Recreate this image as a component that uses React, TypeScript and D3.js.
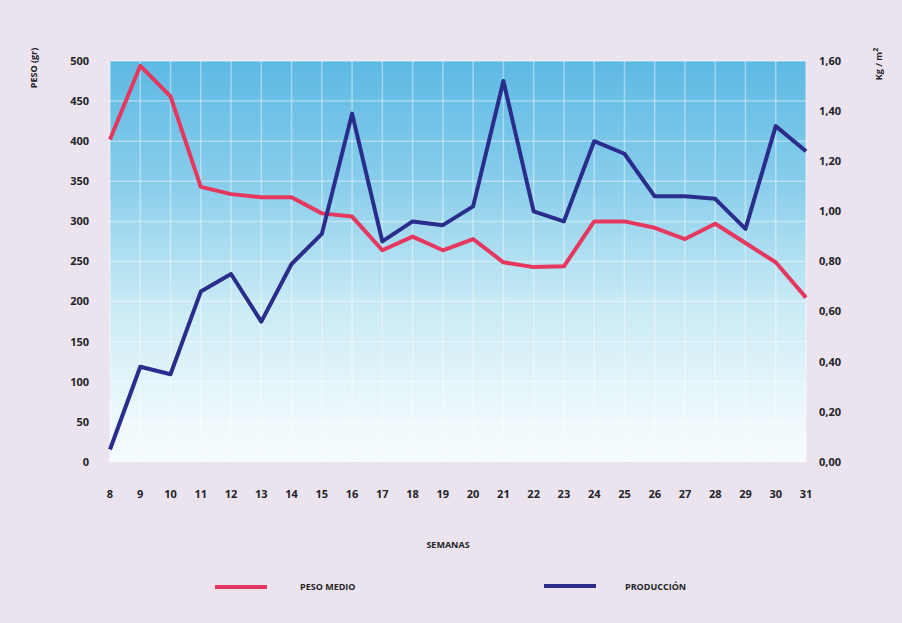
import React from "react";
import * as d3 from "d3";

// Weeks on the x axis
const weeks = [8, 9, 10, 11, 12, 13, 14, 15, 16, 17, 18, 19, 20, 21, 22, 23, 24, 25, 26, 27, 28, 29, 30, 31];

// Average weight per fruit (g), left axis
const pesoMedio = [402, 494, 456, 343, 334, 330, 330, 310, 306, 264, 281, 264, 278, 249, 243, 244, 300, 300, 292, 278, 297, 273, 249, 205];

// Production (kg / m²), right axis
const produccion = [0.05, 0.38, 0.35, 0.68, 0.75, 0.56, 0.79, 0.91, 1.39, 0.88, 0.96, 0.945, 1.02, 1.52, 1.0, 0.96, 1.28, 1.23, 1.06, 1.06, 1.05, 0.93, 1.34, 1.24];

const leftTicks = [0, 50, 100, 150, 200, 250, 300, 350, 400, 450, 500];
const rightTicks = [0, 0.2, 0.4, 0.6, 0.8, 1.0, 1.2, 1.4, 1.6];

const W = 902;
const H = 623;
const plot = { left: 110, right: 806, top: 61, bottom: 462 };

const FONT = "'Open Sans', 'DejaVu Sans', sans-serif";
const INK = "#232328";

export default function App() {
  const x = d3.scaleLinear().domain([8, 31]).range([plot.left, plot.right]);
  const yL = d3.scaleLinear().domain([0, 500]).range([plot.bottom, plot.top]);
  const yR = d3.scaleLinear().domain([0, 1.6]).range([plot.bottom, plot.top]);

  const linePeso = d3
    .line<number>()
    .x((_, i) => x(weeks[i]))
    .y((d) => yL(d));
  const lineProd = d3
    .line<number>()
    .x((_, i) => x(weeks[i]))
    .y((d) => yR(d));

  const fmtR = (v: number) => v.toFixed(2).replace(".", ",");

  return (
    <svg
      width={W}
      height={H}
      style={{ position: "fixed", left: 0, top: 0, display: "block" }}
      fontFamily={FONT}
    >
      <defs>
        <linearGradient id="bgFade" x1="0" y1="0" x2="0" y2="1">
          <stop offset="0" stopColor="#5db9e3" />
          <stop offset="0.3" stopColor="#88cdeb" />
          <stop offset="0.6" stopColor="#c8eaf5" />
          <stop offset="0.85" stopColor="#e9f7fb" />
          <stop offset="1" stopColor="#f7fcfe" />
        </linearGradient>
      </defs>
      <rect x={0} y={0} width={W} height={H} fill="#ebe4ef" />

      {/* plot panel */}
      <rect
        x={plot.left}
        y={plot.top}
        width={plot.right - plot.left}
        height={plot.bottom - plot.top}
        fill="url(#bgFade)"
      />

      {/* grid */}
      <g stroke="#ffffff" strokeOpacity={0.4} strokeWidth={1.5}>
        {weeks.map((w) => (
          <line key={"v" + w} x1={x(w)} x2={x(w)} y1={plot.top} y2={plot.bottom} />
        ))}
        {leftTicks.slice(1).map((t) => (
          <line key={"h" + t} x1={plot.left} x2={plot.right} y1={yL(t)} y2={yL(t)} />
        ))}
      </g>

      {/* series */}
      <path
        d={linePeso(pesoMedio) || ""}
        fill="none"
        stroke="#e6375e"
        strokeWidth={4}
        strokeLinejoin="round"
      />
      <path
        d={lineProd(produccion) || ""}
        fill="none"
        stroke="#2a2d8c"
        strokeWidth={4}
        strokeLinejoin="round"
      />

      {/* left axis */}
      <g fontSize={11} fontWeight={700} fill={INK} textAnchor="end">
        {leftTicks.map((t) => (
          <text key={t} x={89} y={yL(t)} dy="0.35em">
            {t}
          </text>
        ))}
      </g>
      <text
        transform="translate(34,68) rotate(-90)"
        fontSize={9}
        fontWeight={700}
        fill={INK}
        textAnchor="middle"
        dy="0.35em"
      >
        PESO (gr)
      </text>

      {/* right axis */}
      <g fontSize={11} fontWeight={700} fill={INK} textAnchor="start">
        {rightTicks.map((t) => (
          <text key={t} x={819} y={yR(t)} dy="0.35em">
            {fmtR(t)}
          </text>
        ))}
      </g>
      <text
        transform="translate(879,64) rotate(-90)"
        fontSize={9}
        fontWeight={700}
        fill={INK}
        textAnchor="middle"
        dy="0.35em"
      >
        Kg / m<tspan dy="-4" fontSize={7}>2</tspan>
      </text>

      {/* x axis */}
      <g fontSize={11} fontWeight={700} fill={INK} textAnchor="middle">
        {weeks.map((w) => (
          <text key={w} x={x(w)} y={494} dy="0.35em">
            {w}
          </text>
        ))}
      </g>
      <text x={448} y={545} dy="0.35em" fontSize={9} fontWeight={700} fill={INK} textAnchor="middle">
        SEMANAS
      </text>

      {/* legend */}
      <line x1={215} x2={267} y1={587} y2={587} stroke="#e6375e" strokeWidth={4} />
      <text x={300} y={587} dy="0.35em" fontSize={9} fontWeight={700} fill={INK}>
        PESO MEDIO
      </text>
      <line x1={544} x2={596} y1={586} y2={586} stroke="#2a2d8c" strokeWidth={4} />
      <text x={625} y={587} dy="0.35em" fontSize={9} fontWeight={700} fill={INK}>
        PRODUCCIÓN
      </text>
    </svg>
  );
}
